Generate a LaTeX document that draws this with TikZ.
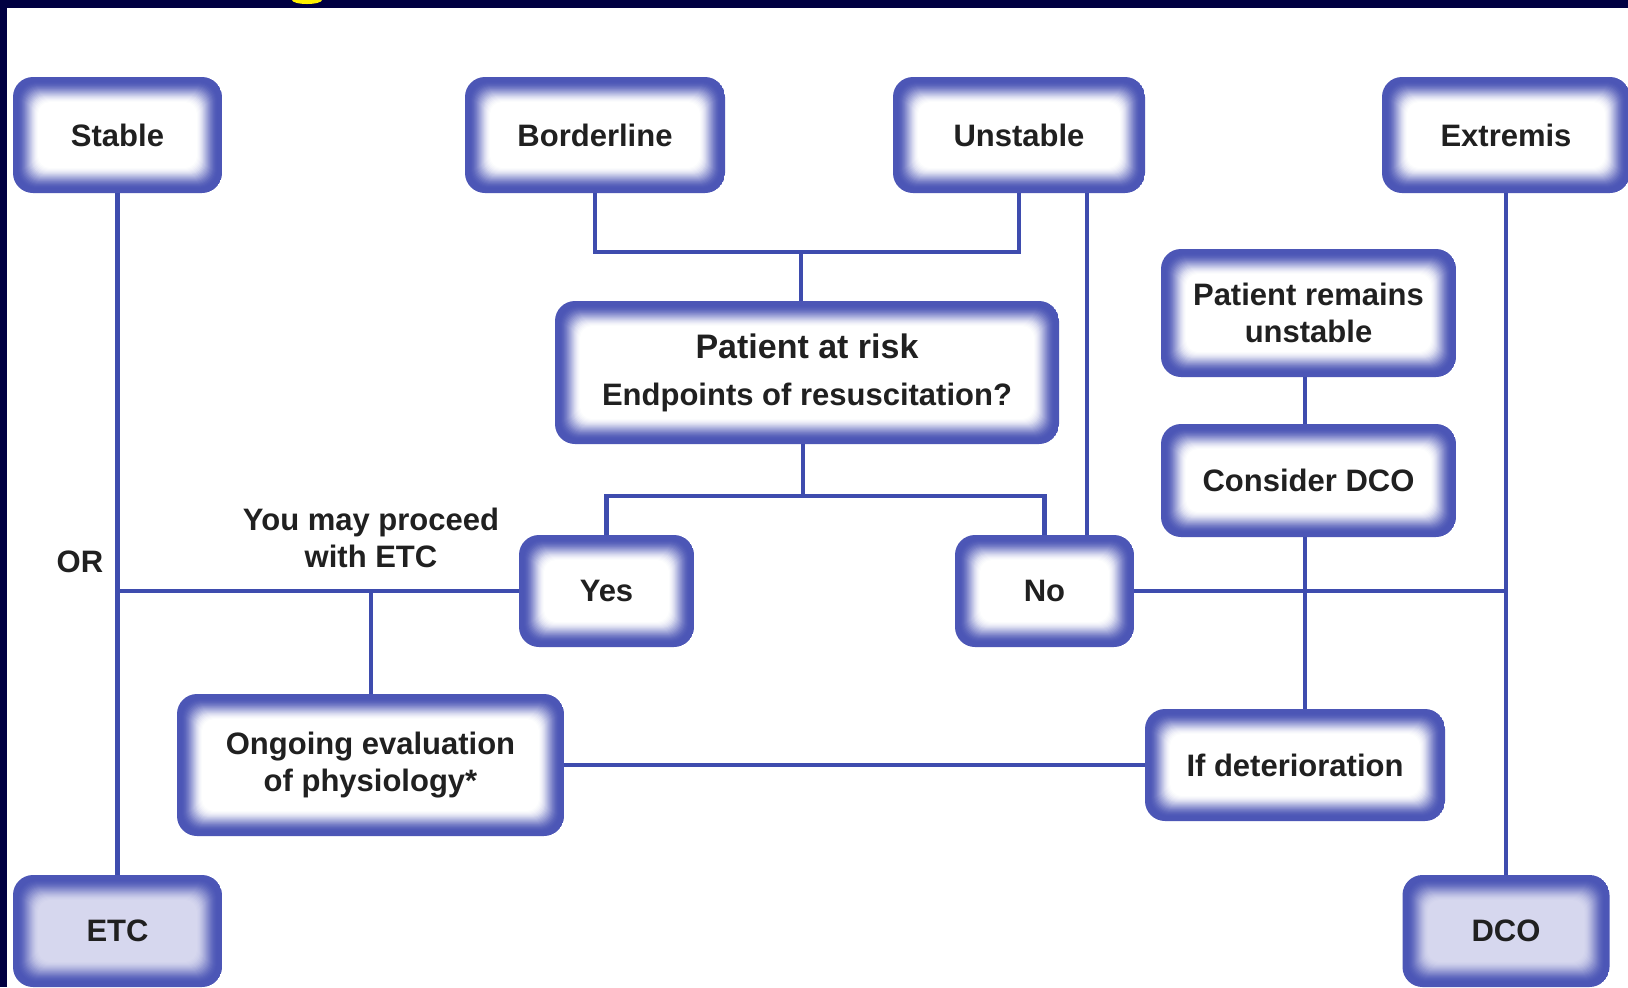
\documentclass[tikz,border=0pt]{standalone}
\usepackage{fontspec}
\setmainfont{Liberation Sans}
\definecolor{edgeblue}{RGB}{76,86,182}
\definecolor{lineblue}{RGB}{62,76,174}
\definecolor{txtgray}{RGB}{32,32,32}
\definecolor{lavender}{RGB}{214,215,238}
\definecolor{navy}{RGB}{0,0,66}
\newcommand{\boxfont}{\fontsize{15.5}{18.5}\selectfont\bfseries}
\tikzset{
  glowto/.store in=\glowinner, glowto=white,
  box/.style={rounded corners=10pt, inner sep=0pt, align=center, text=txtgray, font=\boxfont,
    path picture={
      \foreach \i in {0,...,28}{
        \pgfmathsetmacro{\glowt}{min(1,max(0,(\i-4)/22))}
        \pgfmathtruncatemacro{\pct}{100*(1-\glowt*\glowt*(3-2*\glowt))}
        \pgfmathsetmacro{\rad}{max(6,10-0.2*\i)}
        \fill[rounded corners=\rad pt, edgeblue!\pct!\glowinner]
          ([shift={(\i*0.5pt,\i*0.5pt)}]path picture bounding box.south west) rectangle
          ([shift={(-\i*0.5pt,-\i*0.5pt)}]path picture bounding box.north east);
      }
    }},
  conn/.style={draw=lineblue, line width=2.4pt},
  label/.style={text=txtgray, font=\boxfont, align=center},
}
\begin{document}
\begin{tikzpicture}[x=0.5pt, y=-0.5pt]
\useasboundingbox (0,0) rectangle (1628,987);
% frame
\fill[navy] (0,0) rectangle (1628,987);
\fill[white] (7,8) rectangle (1628,987);
\fill[yellow] (292,0) arc[start angle=180, end angle=0, x radius=15, y radius=4] -- cycle;

% top row
\node[box, minimum width=104.5pt, minimum height=58pt] (stable) at (117.5,135) {Stable};
\node[box, minimum width=130pt, minimum height=58pt] (borderline) at (595,135) {Borderline};
\node[box, minimum width=126pt, minimum height=58pt] (unstable) at (1019,135) {Unstable};
\node[box, minimum width=124pt, minimum height=58pt] (extremis) at (1506,135) {Extremis};

% middle
\node[box, minimum width=252pt, minimum height=71.5pt] (risk) at (807,372.5)
  {{\fontsize{17}{20}\selectfont Patient at risk}\\[5pt]Endpoints of resuscitation?};
\node[box, minimum width=147.5pt, minimum height=64pt] (remains) at (1308.5,313) {Patient remains\\unstable};
\node[box, minimum width=147.5pt, minimum height=56.5pt] (consider) at (1308.5,480.5) {Consider DCO};
\node[box, minimum width=87.5pt, minimum height=56pt] (yes) at (606.5,591) {Yes};
\node[box, minimum width=89.5pt, minimum height=56pt] (no) at (1044.5,591) {No};
\node[box, minimum width=193.5pt, minimum height=71pt] (ongoing) at (370.5,765) {Ongoing evaluation\\of physiology*};
\node[box, minimum width=150pt, minimum height=56pt] (deter) at (1295,765) {If deterioration};

% bottom row
\node[box, glowto=lavender, minimum width=104.5pt, minimum height=56pt] (etc) at (117.5,931) {ETC};
\node[box, glowto=lavender, minimum width=103.5pt, minimum height=56pt] (dco) at (1506,931) {DCO};

% texts
\node[label] (or) at (80,562) {OR};
\node[label] (proceed) at (371,538) {You may proceed\\with ETC};

% junctions
\coordinate (jtop) at (801,252);
\coordinate (jmid) at (803,496);
\coordinate (jno) at (1087,400);
\coordinate (jgo) at (371,591);
\coordinate (jdco) at (1305,591);

\draw[conn] (borderline) |- (jtop) -| (unstable);
\draw[conn] (jtop) -- (jtop |- risk.north);
\draw[conn] (risk.south -| jmid) -- (jmid);
\draw[conn] (yes) |- (jmid) -| (no);
\draw[conn] (unstable.south -| jno) -- (jno |- no.north);
\draw[conn] (stable) -- (etc);
\draw[conn] (extremis) -- (dco);
\draw[conn] (yes.west) -- (yes.west -| stable);
\draw[conn] (jgo) -- (jgo |- ongoing.north);
\draw[conn] (no.east) -- (no.east -| extremis);
\draw[conn] (remains.south -| jdco) -- (consider.north -| jdco);
\draw[conn] (consider.south -| jdco) -- (deter.north -| jdco);
\draw[conn] (ongoing) -- (deter);

\end{tikzpicture}
\end{document}
